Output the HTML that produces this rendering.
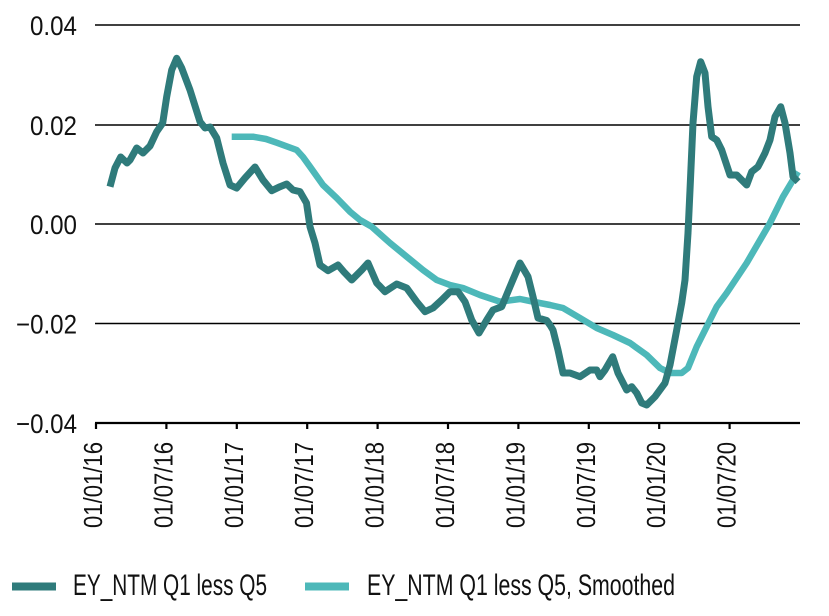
<!DOCTYPE html>
<html><head><meta charset="utf-8"><style>
html,body{margin:0;padding:0;background:#fff;}
svg{display:block;}
text{font-family:"Liberation Sans",sans-serif;fill:#111;}
</style></head><body>
<svg width="829" height="616" viewBox="0 0 829 616" xmlns="http://www.w3.org/2000/svg">
<g stroke="#000" stroke-width="1.5">
<line x1="95" y1="25" x2="800" y2="25"/>
<line x1="95" y1="125" x2="800" y2="125"/>
<line x1="95" y1="224" x2="800" y2="224"/>
<line x1="95" y1="323.5" x2="800" y2="323.5"/>
</g>
<line x1="95" y1="423" x2="800" y2="423" stroke="#000" stroke-width="2.2"/>
<g stroke="#000" stroke-width="2.2">
<line x1="96" y1="423" x2="96" y2="429"/>
<line x1="166.4" y1="423" x2="166.4" y2="429"/>
<line x1="236.8" y1="423" x2="236.8" y2="429"/>
<line x1="307.2" y1="423" x2="307.2" y2="429"/>
<line x1="377.6" y1="423" x2="377.6" y2="429"/>
<line x1="448" y1="423" x2="448" y2="429"/>
<line x1="518.4" y1="423" x2="518.4" y2="429"/>
<line x1="588.8" y1="423" x2="588.8" y2="429"/>
<line x1="659.2" y1="423" x2="659.2" y2="429"/>
<line x1="729.6" y1="423" x2="729.6" y2="429"/>
</g>
<g font-size="27" text-anchor="end">
<text x="77" y="35" textLength="47" lengthAdjust="spacingAndGlyphs">0.04</text>
<text x="77" y="135" textLength="47" lengthAdjust="spacingAndGlyphs">0.02</text>
<text x="77" y="234" textLength="47" lengthAdjust="spacingAndGlyphs">0.00</text>
<text x="77" y="333.5" textLength="61" lengthAdjust="spacingAndGlyphs">−0.02</text>
<text x="77" y="433" textLength="61" lengthAdjust="spacingAndGlyphs">−0.04</text>
</g>
<g font-size="26" text-anchor="end">
<text transform="translate(102,442) rotate(-90)" textLength="86" lengthAdjust="spacingAndGlyphs">01/01/16</text>
<text transform="translate(172.4,442) rotate(-90)" textLength="86" lengthAdjust="spacingAndGlyphs">01/07/16</text>
<text transform="translate(242.8,442) rotate(-90)" textLength="86" lengthAdjust="spacingAndGlyphs">01/01/17</text>
<text transform="translate(313.2,442) rotate(-90)" textLength="86" lengthAdjust="spacingAndGlyphs">01/07/17</text>
<text transform="translate(383.6,442) rotate(-90)" textLength="86" lengthAdjust="spacingAndGlyphs">01/01/18</text>
<text transform="translate(454,442) rotate(-90)" textLength="86" lengthAdjust="spacingAndGlyphs">01/07/18</text>
<text transform="translate(524.4,442) rotate(-90)" textLength="86" lengthAdjust="spacingAndGlyphs">01/01/19</text>
<text transform="translate(594.8,442) rotate(-90)" textLength="86" lengthAdjust="spacingAndGlyphs">01/07/19</text>
<text transform="translate(665.2,442) rotate(-90)" textLength="86" lengthAdjust="spacingAndGlyphs">01/01/20</text>
<text transform="translate(735.6,442) rotate(-90)" textLength="86" lengthAdjust="spacingAndGlyphs">01/07/20</text>
</g>
<polyline fill="none" stroke="#4db8b9" stroke-width="6.5" stroke-linejoin="round" stroke-linecap="butt" points="231.7,136.7 253,136.7 266,139 276.7,142.7 296.7,150 303,157 310,166.7 323,185 336.7,198 350,211.7 360,220 371.7,226.7 390,243 406.7,256.7 423,270 436.7,280 450,285 463,288 480,295 500,301.7 520,299 533,301.7 550,305 563,308 580,318 596.7,328 613,335 630,343 646.7,355 660,368 670,373 681.7,373 688,368 696.7,346.7 706.7,326.7 716.7,306.7 726.7,293 746.7,263 770,223 783,196.7 798,171.7"/>
<polyline fill="none" stroke="#2f7b7b" stroke-width="7" stroke-linejoin="round" stroke-linecap="butt" points="110,186.7 115,168 120.7,157 127,163 130,160 136.7,148 143,153 150,146 156.7,131.7 162.7,123 166.7,96.7 171.7,70 176.7,58.3 181.7,68 190,90 200,121.7 205,128 210,127 216.7,138 223,163 230,185 236.7,188 245,178 255,167 263,180 271.7,190.7 280,186.7 286.7,184 293,190 300,191.7 306.5,203 310,226.7 315,243 320,265 328,270.7 338,265 344,272 351.7,280 361.7,270 368,263 376.7,283 385,291.7 396.7,284 406.7,288 416.7,301.7 425,311.7 433,308 441.7,300 450,291.7 458,291.7 465,301.7 471.7,320 479,333 486.7,320 493,310 501.7,306.7 510,286.7 520,263 528,276.7 533,296.7 538,318 546.7,320.5 550,325 553,330 558,350 563,373 570,373 580,376.7 590,370 596.7,370 600,376.7 605,370 612.7,356.7 618,373 626.7,390 631.7,386.7 636.7,393 641.7,403 646.7,405 655,396.7 665,383 670,365 676.7,330 681.7,303 685,280 688,233 690,190 693,123 696.7,76.7 700.7,61.7 705,73 708,106.7 711.7,136.7 716.7,140 721.7,150 725,160 730,175 736.7,175 741.7,180 746.7,185 751.7,171.7 758,166.7 765,153 770,140 775,116.7 780.7,106.7 785,123 790,153 793,176.7 798,181.7"/>
<rect x="12" y="582.5" width="44" height="8" fill="#2f7b7b"/>
<rect x="305" y="582.5" width="44" height="8" fill="#4db8b9"/>
<g font-size="30">
<text x="73" y="595" textLength="194" lengthAdjust="spacingAndGlyphs">EY_NTM Q1 less Q5</text>
<text x="367" y="595" textLength="308" lengthAdjust="spacingAndGlyphs">EY_NTM Q1 less Q5, Smoothed</text>
</g>
</svg>
</body></html>
